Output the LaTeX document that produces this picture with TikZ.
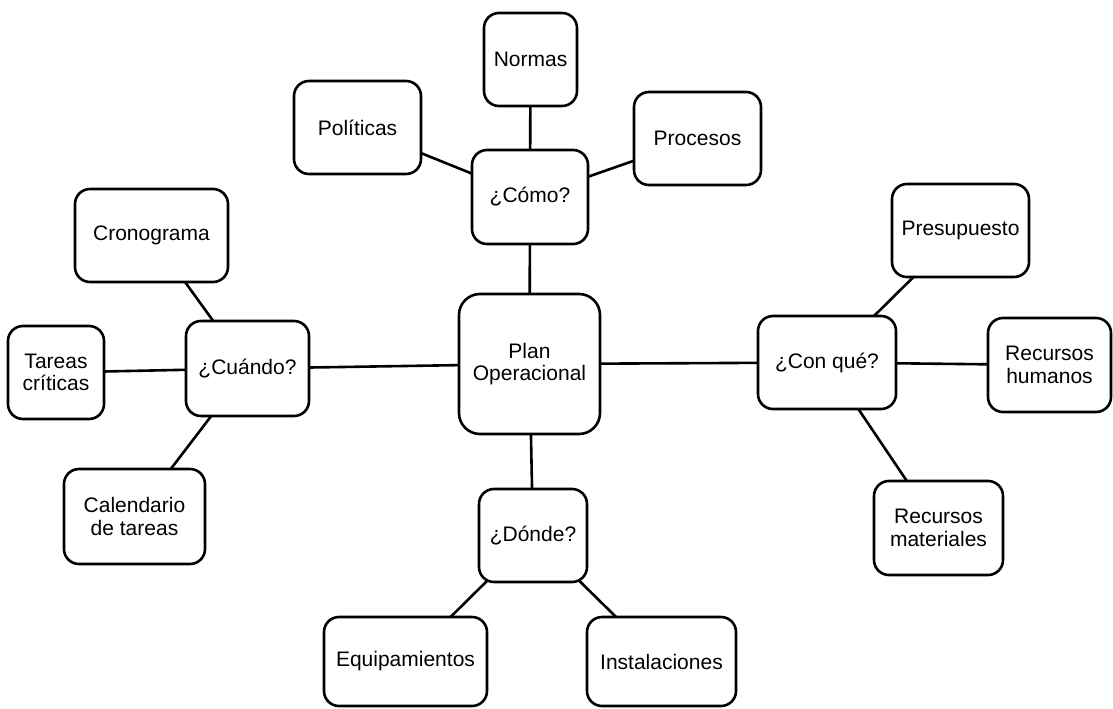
\documentclass[tikz,border=0pt]{standalone}
\usepackage{fontspec}
\setmainfont{Liberation Sans}
\usetikzlibrary{backgrounds}

\tikzset{
  box/.style={draw=black, line width=2.6pt, rounded corners=15pt, fill=white,
    align=center, inner sep=0pt, font=\fontsize{21}{22.5}\selectfont},
  hub/.style={box, rounded corners=21pt},
  link/.style={draw=black, line width=2.6pt},
  sz/.style 2 args={minimum width=#1pt, minimum height=#2pt}
}

\begin{document}
\begin{tikzpicture}[x=1pt, y=-1pt]
  \useasboundingbox (0,0) rectangle (1113,709);

  % central node
  \node[hub, sz={141}{140}] (plan) at (529.5,364) {Plan\\Operacional};

  % question nodes
  \node[box, sz={116}{94}] (como)   at (530,197)   {¿Cómo?};
  \node[box, sz={123}{95}] (cuando) at (247.5,368.5) {¿Cuándo?};
  \node[box, sz={138}{93}] (conque) at (827,362.5) {¿Con qué?};
  \node[box, sz={108}{93}] (donde)  at (533,535.5) {¿Dónde?};

  % ¿Cómo? branch
  \node[box, sz={93}{93}]  (normas)    at (530.5,59.5)  {Normas};
  \node[box, sz={127}{93}] (politicas) at (357.5,127.5) {Políticas};
  \node[box, sz={127}{93}] (procesos)  at (697.5,138.5) {Procesos};

  % ¿Cuándo? branch
  \node[box, sz={153}{93}] (cronograma) at (151.5,235.5) {Cronograma};
  \node[box, sz={96}{93}]  (tareas)     at (56,372.5)    {Tareas\\críticas};
  \node[box, sz={141}{95}] (calendario) at (134.5,516.5) {Calendario\\de tareas};

  % ¿Con qué? branch
  \node[box, sz={137}{93}] (presupuesto) at (960.5,230.5) {Presupuesto};
  \node[box, sz={123}{94}] (rhumanos)    at (1049.5,365)  {Recursos\\humanos};
  \node[box, sz={129}{94}] (rmateriales) at (938.5,528)   {Recursos\\materiales};

  % ¿Dónde? branch
  \node[box, sz={163}{89}] (equipos)       at (405.5,661.5) {Equipamientos};
  \node[box, sz={149}{89}] (instalaciones) at (661.5,661.5) {Instalaciones};

  % connectors, drawn behind the filled boxes
  \begin{pgfonlayer}{background}
    \path[link] (plan.center) -- (como.center)
                (plan.center) -- (cuando.center)
                (plan.center) -- (conque.center)
                (plan.center) -- (donde.center)
                (como.center) -- (normas.center)
                (como.center) -- (politicas.center)
                (como.center) -- (procesos.center)
                (cuando.center) -- (cronograma.center)
                (cuando.center) -- (tareas.center)
                (cuando.center) -- (calendario.center)
                (conque.center) -- (presupuesto.center)
                (conque.center) -- (rhumanos.center)
                (conque.center) -- (rmateriales.center)
                (donde.center) -- (equipos.center)
                (donde.center) -- (instalaciones.center);
  \end{pgfonlayer}
\end{tikzpicture}
\end{document}
